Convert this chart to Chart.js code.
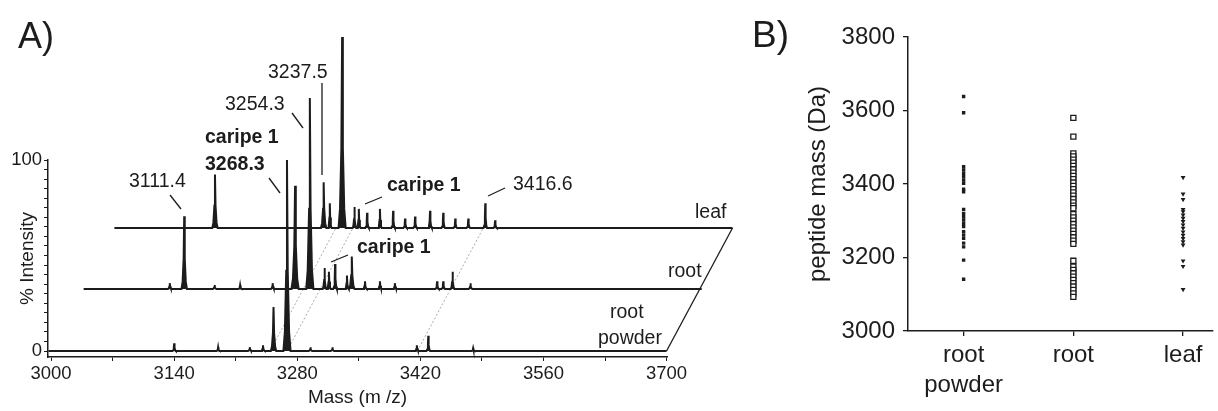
<!DOCTYPE html>
<html>
<head>
<meta charset="utf-8">
<script src="https://cdn.jsdelivr.net/npm/chart.js@4.4.1/dist/chart.umd.min.js"></script>
<style>
  body { margin: 0; background: #fff; }
  #specA { position: absolute; left: 0; top: 0; }
  #scatB { position: absolute; left: 740px; top: 0; }
</style>
</head>
<body>
<canvas id="specA" width="740" height="411"></canvas>
<canvas id="scatB" width="478" height="411"></canvas>
<script>
// ---- panel A: peaks (m/z, % intensity) ----
var powderMz  = [3140, 3190, 3226, 3241, 3253, 3268.3, 3295, 3320, 3416, 3429, 3480];
var powderInt = [4, 2, 2, 3, 23, 100, 2, 2, 3, 8, 1.5];

var rootMz  = [3095, 3111.4, 3146, 3175, 3212, 3237.5, 3254.3, 3271, 3276, 3283, 3296.5, 3302, 3317, 3334, 3351, 3399, 3406, 3416.6, 3437];
var rootInt = [3, 38, 2, 2, 3, 54, 100, 11, 9, 13, 7, 17, 4, 4, 3, 4, 4, 9, 3];

var leafMz  = [3111.4, 3235, 3242, 3256, 3270, 3275, 3284.4, 3299, 3314, 3327.6, 3339, 3356, 3371, 3384.7, 3399.5, 3418.8, 3430];
var leafInt = [28, 24, 13, 100, 11, 10, 8, 10, 9, 5, 6, 9, 8, 5, 5, 13, 4];

var guideMz = [3249, 3268.3, 3416.6];
var massTicks = [3000, 3140, 3280, 3420, 3560, 3700];
var intensityTicks = [0, 100];

// ---- panel B: peptide masses per tissue (Da) ----
var groups = [["root", "powder"], "root", "leaf"];
var powderMasses = [3638, 3594, 3447, 3438, 3429, 3420, 3411, 3402, 3386, 3379, 3331, 3320, 3311, 3302, 3293, 3284, 3270, 3261, 3252, 3239, 3229, 3193, 3141];
var rootMasses = [3580, 3529, 3483, 3475, 3466, 3458, 3449, 3440, 3431, 3422, 3413, 3404, 3395, 3386, 3377, 3368, 3359, 3350, 3341, 3334,
                  3318, 3309, 3300, 3291, 3282, 3273, 3264, 3255, 3246, 3237, 3191,
                  3175, 3166, 3157, 3148, 3139, 3130, 3121, 3112, 3102, 3093];
var leafMasses = [3418, 3373, 3358, 3331, 3325, 3316, 3307, 3298, 3289, 3280, 3270, 3261, 3252, 3243, 3234, 3191, 3176, 3113];
var massAxisTicks = [3000, 3200, 3400, 3600, 3800];

var FONT = "'Liberation Sans', Arial, sans-serif";
var INK = '#1c1c1c';

// stacking of the three traces (Da right, % up)
var rootShift = { x: 40, y: 32.5 };
var leafShift = { x: 75, y: 64.4 };

function spectrum(mz, inten, sh) {
  var pts = [{ x: 2997 + sh.x, y: sh.y }];
  mz.forEach(function (m, i) {
    var h = inten[i];
    var w = h > 50 ? 2.4 : (h > 15 ? 1.8 : 1.2);
    pts.push({ x: m - 1.7 * w + sh.x, y: sh.y });
    pts.push({ x: m - w + sh.x, y: sh.y + h * 0.1 });
    pts.push({ x: m - w * 0.35 + sh.x, y: sh.y + h * 0.42 });
    pts.push({ x: m + sh.x, y: sh.y + h });
    pts.push({ x: m + w * 0.35 + sh.x, y: sh.y + h * 0.42 });
    pts.push({ x: m + w + sh.x, y: sh.y + h * 0.1 });
    pts.push({ x: m + 1.7 * w + sh.x, y: sh.y });
  });
  pts.push({ x: 3700 + sh.x, y: sh.y });
  return pts;
}

function traceSet(data, base) {
  return {
    data: data, showLine: true, pointRadius: 0, borderColor: INK, borderWidth: 2,
    tension: 0, clip: false, fill: { value: base }, backgroundColor: INK
  };
}

var spectraSets = [
  traceSet(spectrum(powderMz, powderInt, { x: 0, y: 0 }), 0),
  traceSet(spectrum(rootMz, rootInt, rootShift), rootShift.y),
  traceSet(spectrum(leafMz, leafInt, leafShift), leafShift.y),
  { data: [{ x: 3700, y: 0 }, { x: 3700 + leafShift.x, y: leafShift.y }], showLine: true, pointRadius: 0,
    borderColor: INK, borderWidth: 1.3, clip: false }
];
guideMz.forEach(function (m) {
  spectraSets.push({
    data: [{ x: m, y: 0 }, { x: m + leafShift.x, y: leafShift.y }],
    showLine: true, pointRadius: 0, borderColor: '#a0a0a0', borderWidth: 0.9,
    borderDash: [2, 2], clip: false
  });
});

// annotation text placed on the page
var notesA = [
  { t: 'A)', x: 18, y: 48, size: 36 },
  { t: '3237.5', x: 268, y: 78 },
  { t: '3254.3', x: 225, y: 110 },
  { t: 'caripe 1', x: 205, y: 143, bold: true },
  { t: '3268.3', x: 205, y: 170, bold: true },
  { t: '3111.4', x: 129, y: 187 },
  { t: 'caripe 1', x: 387, y: 191, bold: true },
  { t: '3416.6', x: 513, y: 190 },
  { t: 'caripe 1', x: 357, y: 253, bold: true },
  { t: 'leaf', x: 695, y: 218 },
  { t: 'root', x: 668, y: 277 },
  { t: 'root', x: 610, y: 318 },
  { t: 'powder', x: 598, y: 344 }
];
var leadersA = [
  [170, 195, 181, 209], [269, 178, 280, 193], [292, 113, 303, 128], [322, 83, 322, 175],
  [365, 204, 382, 197], [488, 196, 505, 188], [331, 262, 348, 255]
];

var notesPluginA = {
  id: 'notesA',
  afterDraw: function (chart) {
    var ctx = chart.ctx;
    ctx.save();
    ctx.fillStyle = INK;
    ctx.strokeStyle = INK;
    ctx.lineWidth = 1.3;
    ctx.textBaseline = 'alphabetic';
    ctx.textAlign = 'left';
    notesA.forEach(function (n) {
      ctx.font = (n.bold ? 'bold ' : '') + (n.size || 19.5) + 'px ' + FONT;
      ctx.fillText(n.t, n.x, n.y);
    });
    leadersA.forEach(function (l) {
      ctx.beginPath();
      ctx.moveTo(l[0], l[1]);
      ctx.lineTo(l[2], l[3]);
      ctx.stroke();
    });
    ctx.restore();
  }
};

new Chart(document.getElementById('specA'), {
  type: 'scatter',
  data: { datasets: spectraSets },
  options: {
    responsive: false,
    animation: false,
    devicePixelRatio: 1,
    layout: { padding: { top: 160, right: 73, left: 0, bottom: 0 } },
    plugins: { legend: { display: false }, tooltip: { enabled: false }, filler: { propagate: false } },
    scales: {
      x: {
        type: 'linear', min: 2996.5, max: 3700.5,
        afterBuildTicks: function (s) {
          var t = [];
          for (var v = massTicks[0]; v <= massTicks[massTicks.length - 1]; v += 70) t.push({ value: v });
          s.ticks = t;
        },
        afterFit: function (s) { s.height = 54; },
        ticks: {
          autoSkip: false, maxRotation: 0, padding: 2, color: INK,
          font: { family: FONT, size: 18.5 },
          callback: function (v) { return massTicks.indexOf(v) >= 0 ? String(v) : ''; }
        },
        grid: { drawOnChartArea: false, drawTicks: true, tickLength: 4, color: INK, lineWidth: 1 },
        border: { color: INK, width: 1.5 },
        title: { display: true, text: 'Mass (m /z)', color: INK, font: { family: FONT, size: 19 }, padding: { top: 0, bottom: 2 } }
      },
      y: {
        type: 'linear', min: -3.14, max: 100,
        afterBuildTicks: function (s) {
          var t = [];
          for (var v = intensityTicks[0]; v <= intensityTicks[1]; v += 5) t.push({ value: v });
          s.ticks = t;
        },
        afterFit: function (s) { s.width = 48; },
        ticks: {
          autoSkip: false, padding: 2, color: INK,
          font: { family: FONT, size: 18.5 },
          callback: function (v) { return intensityTicks.indexOf(v) >= 0 ? String(v) : ''; }
        },
        grid: { drawOnChartArea: false, drawTicks: true, tickLength: 4, color: INK, lineWidth: 1 },
        border: { color: INK, width: 1.5 },
        title: { display: true, text: '% Intensity', color: INK, font: { family: FONT, size: 19 }, padding: { top: 16, bottom: 0 } }
      }
    }
  },
  plugins: [notesPluginA]
});

// ---- panel B ----
var notesPluginB = {
  id: 'notesB',
  afterDraw: function (chart) {
    var ctx = chart.ctx;
    ctx.save();
    ctx.fillStyle = INK;
    ctx.font = '37px ' + FONT;
    ctx.textBaseline = 'alphabetic';
    ctx.fillText('B)', 12, 47);
    ctx.restore();
  }
};

function column(masses, idx) {
  return masses.map(function (m) { return { x: idx, y: m }; });
}

new Chart(document.getElementById('scatB'), {
  type: 'scatter',
  data: {
    datasets: [
      { data: column(powderMasses, 0), pointStyle: 'rect', pointRadius: 2.4, backgroundColor: INK, borderColor: INK, borderWidth: 0 },
      { data: column(rootMasses, 1), pointStyle: 'rect', pointRadius: 3.6, backgroundColor: '#ffffff', borderColor: INK, borderWidth: 1.3 },
      { data: column(leafMasses, 2), pointStyle: 'triangle', rotation: 180, pointRadius: 2.8, backgroundColor: INK, borderColor: INK, borderWidth: 0 }
    ]
  },
  options: {
    responsive: false,
    animation: false,
    devicePixelRatio: 1,
    layout: { padding: { top: 37, right: 0, left: 0, bottom: 0 } },
    plugins: { legend: { display: false }, tooltip: { enabled: false } },
    scales: {
      x: {
        type: 'linear', min: -0.507, max: 2.27,
        afterBuildTicks: function (s) { s.ticks = groups.map(function (g, i) { return { value: i }; }); },
        afterFit: function (s) { s.height = 80; },
        ticks: {
          autoSkip: false, maxRotation: 0, padding: 4, color: INK,
          font: { family: FONT, size: 24, lineHeight: 1.25 },
          callback: function (v) { return groups[v]; }
        },
        grid: { drawOnChartArea: false, drawTicks: true, tickLength: 5, color: INK, lineWidth: 1.3 },
        border: { color: INK, width: 1.5 }
      },
      y: {
        type: 'linear', min: massAxisTicks[0], max: massAxisTicks[massAxisTicks.length - 1],
        afterBuildTicks: function (s) { s.ticks = massAxisTicks.map(function (v) { return { value: v }; }); },
        afterFit: function (s) { s.width = 168; },
        ticks: {
          autoSkip: false, padding: 8, color: INK,
          font: { family: FONT, size: 24 },
          callback: function (v) { return String(v); }
        },
        grid: { drawOnChartArea: false, drawTicks: true, tickLength: 5, color: INK, lineWidth: 1.3 },
        border: { color: INK, width: 1.5 },
        title: { display: true, text: 'peptide mass (Da)', color: INK, font: { family: FONT, size: 24 }, padding: { top: 64, bottom: 0 } }
      }
    }
  },
  plugins: [notesPluginB]
});
</script>
</body>
</html>
